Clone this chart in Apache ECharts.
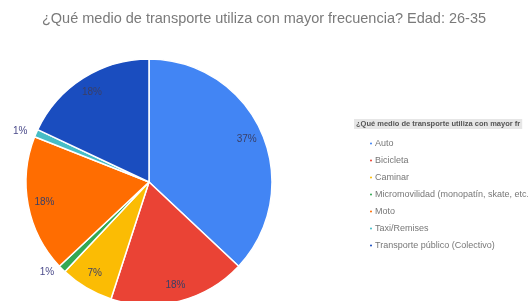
<!DOCTYPE html>
<html lang="es">
<head>
  <meta charset="utf-8">
  <title>Medio de transporte 26-35</title>
  <script src="https://cdn.jsdelivr.net/npm/echarts@6/dist/echarts.min.js"></script>
  <style>
    html, body { margin: 0; padding: 0; background: #fff; }
    #chart { width: 528px; height: 301px; }
  </style>
</head>
<body>
  <div id="chart"></div>
  <script>
    // datos
    var categorias = ['Auto', 'Bicicleta', 'Caminar', 'Micromovilidad (monopatín, skate, etc.)', 'Moto', 'Taxi/Remises', 'Transporte público (Colectivo)'];
    var porcentajes = [37, 18, 7, 1, 18, 1, 18];
    var colores = ['#4285f4', '#ea4335', '#fbbc04', '#34a853', '#ff6d01', '#46bdc6', '#1a4dbf'];
    var etiquetaFuera = [false, false, false, true, false, true, false];

    var chart = echarts.init(document.getElementById('chart'));

    var datosPie = categorias.map(function (c, i) {
      return { name: c, value: porcentajes[i], itemStyle: { color: colores[i] } };
    });

    // serie transparente solo para ubicar las etiquetas
    var datosEtiquetas = categorias.map(function (c, i) {
      var d = { name: c, value: porcentajes[i] };
      if (etiquetaFuera[i]) {
        d.label = { position: 'outside', color: '#4a4a8a' };
      }
      return d;
    });

    chart.setOption({
      animation: false,
      title: [{
        text: '¿Qué medio de transporte utiliza con mayor frecuencia? Edad: 26-35',
        left: 'center',
        top: 6,
        textStyle: { fontFamily: 'Liberation Sans', fontSize: 14.5, fontWeight: 'normal', color: '#7a7a7a' }
      }, {
        text: '¿Qué medio de transporte utiliza con mayor frecuencia?',
        left: 354,
        top: 119,
        padding: [1, 2],
        backgroundColor: '#e6e6e6',
        textStyle: { fontFamily: 'Liberation Sans', fontSize: 7.5, fontWeight: 'bold', color: '#555', width: 172, overflow: 'truncate', ellipsis: '' }
      }],
      legend: {
        orient: 'vertical',
        left: 363,
        top: 134,
        icon: 'circle',
        itemWidth: 4,
        itemHeight: 4,
        itemGap: 8,
        data: categorias,
        textStyle: { fontFamily: 'Liberation Sans', fontSize: 9, color: '#777', width: 162, overflow: 'truncate', padding: [0, 0, 0, -3] }
      },
      series: [{
        type: 'pie',
        center: [149, 182],
        radius: [0, 123],
        startAngle: 90,
        silent: true,
        label: { show: false },
        labelLine: { show: false },
        itemStyle: { borderColor: '#fff', borderWidth: 1.5 },
        data: datosPie
      }, {
        type: 'pie',
        center: [149, 182],
        radius: [84, 123],
        startAngle: 90,
        silent: true,
        legendHoverLink: false,
        itemStyle: { color: 'rgba(0,0,0,0)' },
        label: {
          show: true,
          position: 'inside',
          formatter: '{c}%',
          fontFamily: 'Liberation Sans',
          fontSize: 10,
          color: '#3a3f66'
        },
        labelLine: { show: false, length: 4, length2: 0 },
        data: datosEtiquetas
      }]
    });
  </script>
</body>
</html>
